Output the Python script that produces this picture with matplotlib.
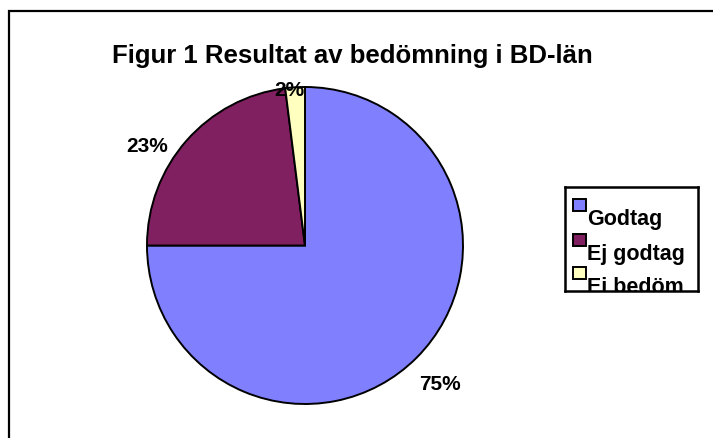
import numpy as np
import matplotlib
matplotlib.use('Agg')
import matplotlib.pyplot as plt
from matplotlib.patches import Rectangle

# data
categories = ['Godtag', 'Ej godtag', 'Ej bedöm']
values = [75, 23, 2]
colors = ['#8080FF', '#802060', '#FFFFC0']
pct_labels = ['75%', '23%', '2%']

plt.rcParams['font.family'] = ['Liberation Sans', 'DejaVu Sans']

W, H = 713, 439
fig = plt.figure(figsize=(W / 100, H / 100), dpi=100)

# outer chart border (only left and top visible in the original crop)
fig.patches.append(Rectangle((9 / W, -0.1), 1.2, (H - 12) / H + 0.1, transform=fig.transFigure,
                             fill=False, edgecolor='black', linewidth=1.6))

fig.text(352 / W, 1 - 63 / H, 'Figur 1 Resultat av bedömning i BD-län',
         ha='center', va='baseline', fontsize=18.5, fontweight='bold')

# pie
ax = fig.add_axes([147 / W, (H - 405) / H, 316 / W, 317 / H])
wedges, _ = ax.pie(values, colors=colors, startangle=90, counterclock=False,
                   wedgeprops=dict(edgecolor='black', linewidth=1.4))
ax.set_xlim(-1, 1)
ax.set_ylim(-1, 1)
ax.set_aspect('auto')
ax.axis('off')

# label placement, roughly as Excel put them
offsets = [(-0.6, 1.22), (9, 1.18), (2, 0.99)]
for w, lab, (da, dist) in zip(wedges, pct_labels, offsets):
    ang = np.deg2rad((w.theta1 + w.theta2) / 2 + da)
    ax.text(dist * np.cos(ang), dist * np.sin(ang), lab, ha='center', va='center',
            fontsize=15, fontweight='bold')

# legend drawn like the Excel one
lg = fig.add_axes([565 / W, (H - 292) / H, 133 / W, 104 / H])
lg.set_xlim(0, 133)
lg.set_ylim(104, 0)
lg.set_xticks([])
lg.set_yticks([])
for s in lg.spines.values():
    s.set_linewidth(1.8)
sq_top = [12, 47, 80]
for name, c, y in zip(categories, colors, sq_top):
    lg.add_patch(Rectangle((8, y), 13, 12, facecolor=c, edgecolor='black', linewidth=1.4))
    lg.text(22, y + 25, name, ha='left', va='baseline', fontsize=15.5, fontweight='bold',
            clip_on=True)

fig.savefig('out.png', dpi=100)
